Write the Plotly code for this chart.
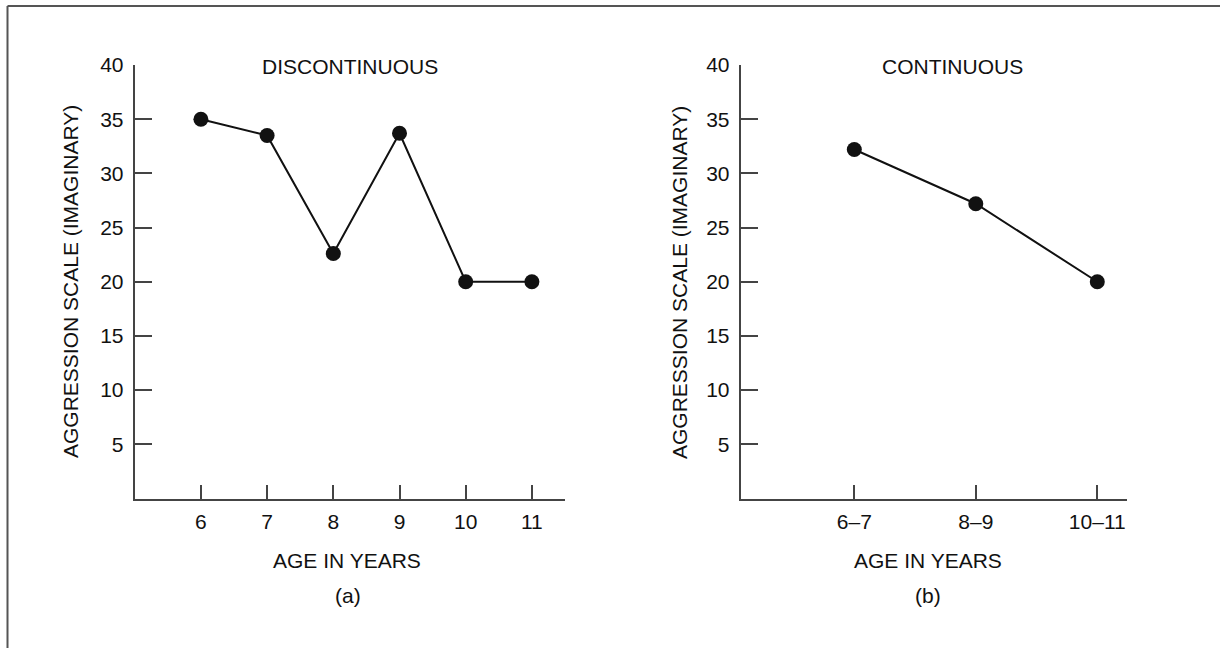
import plotly.graph_objects as go

# Panel (a): single-year ages
ages_a = [6, 7, 8, 9, 10, 11]
scores_a = [35, 33.5, 22.6, 33.7, 20, 20]

# Panel (b): two-year age groups
groups_b = ["6–7", "8–9", "10–11"]
scores_b = [32.2, 27.2, 20]

y_ticks = [5, 10, 15, 20, 25, 30, 35, 40]

W, H = 1220, 648
FONT = "Liberation Sans, Arial, Helvetica, sans-serif"
INK = "#111111"
AXIS = "#444444"


def px(x):
    return x / W


def py(y):
    return 1 - y / H


fig = go.Figure()

marker = dict(size=15, color="#111111")
line = dict(color="#111111", width=2)

fig.add_trace(go.Scatter(x=ages_a, y=scores_a, mode="lines+markers",
                         marker=marker, line=line, xaxis="x", yaxis="y",
                         showlegend=False, cliponaxis=False))
fig.add_trace(go.Scatter(x=groups_b, y=scores_b, mode="lines+markers",
                         marker=marker, line=line, xaxis="x2", yaxis="y2",
                         showlegend=False, cliponaxis=False))

y_common = dict(range=[0, 40], tickvals=y_ticks, ticks="inside", ticklen=17,
                tickwidth=1.5, tickcolor=AXIS, showline=True, linecolor=AXIS,
                linewidth=2, showgrid=False, zeroline=False, automargin=False,
                ticklabelstandoff=5,
                tickfont=dict(family=FONT, size=21, color=INK),
                domain=[py(498.5), py(65)])
x_common = dict(ticks="inside", ticklen=14, tickwidth=1.5, tickcolor=AXIS,
                showline=True, linecolor=AXIS, linewidth=2, showgrid=False,
                zeroline=False, automargin=False, ticklabelstandoff=3,
                tickfont=dict(family=FONT, size=21, color=INK))

fig.update_layout(
    width=W, height=H,
    margin=dict(l=0, r=0, t=0, b=0, autoexpand=False),
    paper_bgcolor="white", plot_bgcolor="white",
    xaxis=dict(**x_common, range=[5, 11.5], tickvals=ages_a,
               domain=[px(134.7), px(565)], anchor="y"),
    yaxis=dict(**y_common, anchor="x"),
    xaxis2=dict(**x_common, type="category", range=[-0.935, 2.247],
                domain=[px(740.7), px(1127.3)], anchor="y2"),
    yaxis2=dict(**y_common, anchor="x2"),
)

texts = [
    ("DISCONTINUOUS", 350, 66, 0),
    ("CONTINUOUS", 953, 66, 0),
    ("AGE IN YEARS", 347, 560, 0),
    ("AGE IN YEARS", 928, 560, 0),
    ("(a)", 348, 595, 0),
    ("(b)", 928, 595, 0),
    ("AGGRESSION SCALE (IMAGINARY)", 71, 282, -90),
    ("AGGRESSION SCALE (IMAGINARY)", 680, 282, -90),
]
for t, x, y, ang in texts:
    fig.add_annotation(text=t, x=px(x), y=py(y), xref="paper", yref="paper",
                       xanchor="center", yanchor="middle", showarrow=False,
                       textangle=ang,
                       font=dict(family=FONT, size=21, color=INK))

# Frame: top and left edges
frame = dict(type="line", xref="paper", yref="paper",
             line=dict(color="#555555", width=2))
fig.add_shape(**frame, x0=px(7.5), y0=py(6), x1=1, y1=py(6))
fig.add_shape(**frame, x0=px(7.5), y0=py(6), x1=px(7.5), y1=0)

fig.write_html("out.html")
